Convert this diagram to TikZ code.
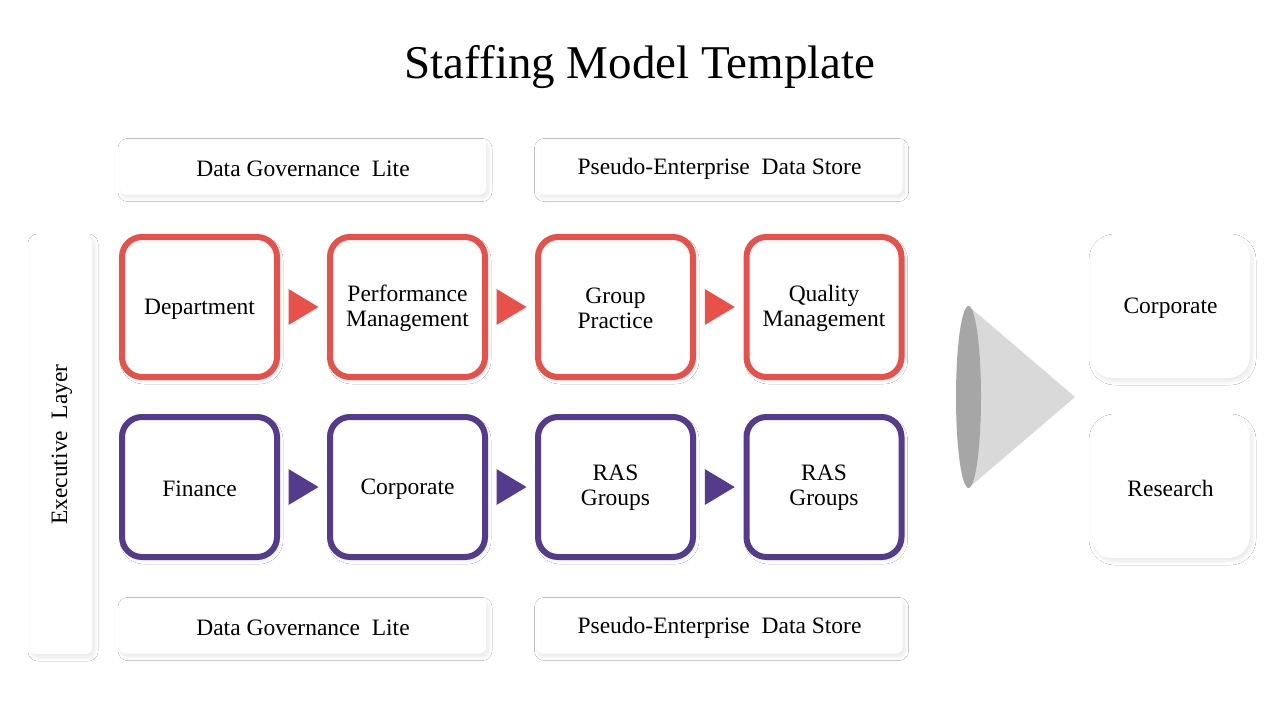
\documentclass[tikz,border=0pt]{standalone}
\usepackage{fontspec}
\setmainfont{Liberation Serif}
\usetikzlibrary{shadows.blur,calc}
\definecolor{redc}{HTML}{E8504A}
\definecolor{purc}{HTML}{553B8C}
\definecolor{conel}{HTML}{D9D9D9}
\definecolor{coned}{HTML}{A6A6A6}
\tikzset{
  shd/.style={blur shadow={shadow xshift=2pt,shadow yshift=-3pt,shadow blur radius=4pt,shadow opacity=10,shadow blur steps=14}},
  txt/.style={font=\fontsize{23.5}{25}\selectfont,align=center,inner sep=0pt},
  boxtext/.style={label={[txt,yshift=-2pt]center:#1}},
  boxtextii/.style={label={[txt,yshift=-1pt]center:#1}},
  labelbox/.style={fill=white,rounded corners=6pt,minimum width=366pt,minimum height=55pt,shd,inner sep=0pt},
  flowbox/.style={fill=white,line width=6pt,rounded corners=20pt,minimum width=155pt,minimum height=140pt,shd,inner sep=0pt},
  redbox/.style={flowbox,draw=redc},
  purbox/.style={flowbox,draw=purc},
  sidebox/.style={fill=white,rounded corners=22pt,minimum width=159pt,minimum height=143pt,shd,inner sep=0pt},
}
\newcommand{\flowtri}[3]{%
  \path (#1.east) -- (#2.west) coordinate[pos=0.5] (#1-#2-m);
  \fill[#3] ($(#1-#2-m)+(-15,-18)$) -- ($(#1-#2-m)+(15,0)$) -- ($(#1-#2-m)+(-15,18)$) -- cycle;}
\begin{document}
\begin{tikzpicture}[x=1pt,y=-1pt]
\useasboundingbox[fill=white] (0,0) rectangle (1280,720);
\node[font=\fontsize{47}{50}\selectfont,anchor=base] (title) at (640,78) {Staffing Model Template};

\node[labelbox,boxtext={Data Governance\ \ Lite}] (tl) at (303,167) {};
\node[labelbox,boxtext={Pseudo-Enterprise\ \ Data Store}] (tr) at (719.5,167) {};
\node[labelbox,boxtext={Data Governance\ \ Lite}] (bl) at (303,626) {};
\node[labelbox,boxtext={Pseudo-Enterprise\ \ Data Store}] (br) at (719.5,626) {};

\node[fill=white,rounded corners=6pt,minimum width=62pt,minimum height=419pt,shd,inner sep=0pt] (exec) at (61,444.5) {};
\node[txt,rotate=90] (execl) at ([xshift=1pt]exec.center) {Executive\ \ Layer};

\node[redbox,boxtext={Department}] (r1) at (199.5,307) {};
\node[redbox,boxtextii={Performance\\Management}] (r2) at (407.5,307) {};
\node[redbox,boxtextii={Group\\Practice}] (r3) at (615.5,307) {};
\node[redbox,boxtextii={Quality\\Management}] (r4) at (824,307) {};

\node[purbox,boxtext={Finance}] (p1) at (199.5,487) {};
\node[purbox,boxtext={Corporate}] (p2) at (407.5,487) {};
\node[purbox,boxtextii={RAS\\Groups}] (p3) at (615.5,487) {};
\node[purbox,boxtextii={RAS\\Groups}] (p4) at (824,487) {};

\flowtri{r1}{r2}{redc}
\flowtri{r2}{r3}{redc}
\flowtri{r3}{r4}{redc}
\flowtri{p1}{p2}{purc}
\flowtri{p2}{p3}{purc}
\flowtri{p3}{p4}{purc}

% cone
\coordinate (apex) at (1075,397);
\coordinate (base) at (968.5,397);
\fill[conel] (968.5,306) -- (apex) -- (968.5,488) -- cycle;
\fill[coned] (base) ellipse [x radius=12.5, y radius=91];

\node[sidebox,boxtext={Corporate}] (sc) at (1170.5,306.5) {};
\node[sidebox,boxtext={Research}] (sr) at (1170.5,486.5) {};
\end{tikzpicture}
\end{document}
